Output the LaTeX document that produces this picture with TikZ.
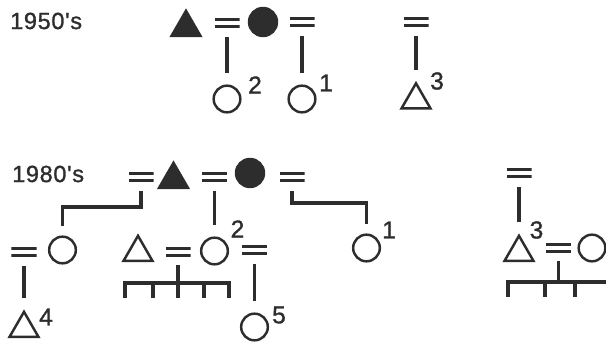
\documentclass[tikz,border=0pt]{standalone}
\usepackage{fontspec}
\setmainfont{Liberation Sans}
\newfontfamily\erafont[LetterSpace=3,FakeBold=1.2]{Liberation Sans}
\newfontfamily\supfont[FakeBold=1.2]{Liberation Sans}
\usetikzlibrary{shapes.geometric}
\definecolor{ink}{RGB}{45,45,45}

\begin{document}
\begin{tikzpicture}[
			x=0.03cm, y=-0.03cm,
			line join=miter,
			fem/.style = {draw=ink, circle, line width=2.1pt, minimum size=0.8cm, inner sep=0pt},
			femf/.style = {fem, fill=ink, minimum size=0.84cm},
			mal/.style = {draw=ink, regular polygon, regular polygon sides=3, line width=2.1pt, minimum size=1.0cm, inner sep=0pt},
			malf/.style = {mal, fill=ink},
			marr/.style = {minimum width=0.75cm, minimum height=0.4cm, inner sep=0pt,
				path picture={\draw[ink, line width=2.6pt]
					([yshift=0.1cm]path picture bounding box.west) -- ([yshift=0.1cm]path picture bounding box.east)
					([yshift=-0.1cm]path picture bounding box.west) -- ([yshift=-0.1cm]path picture bounding box.east);}},
			desc/.style = {draw=ink, line width=2.8pt, shorten <=0.21cm, shorten >=0.33cm},
			sib/.style = {draw=ink, line width=2.8pt},
			sup/.style = {inner sep=0pt, text=ink, font=\supfont\fontsize{21}{22}\selectfont},
			era/.style = {inner sep=0pt, anchor=west, text=ink, font=\erafont\fontsize{20}{22}\selectfont}
		]
		\useasboundingbox (0,0) rectangle (606,342);
		\clip (0,0) rectangle (606,342);
		\node[era] (1) at (10,21) {1950's};
		\node[malf] (2) at (186,27.5) {};
		\node[marr] (3) at (227,23) {};
		\node[femf] (4) at (263,22) {};
		\node[marr] (5) at (302,22) {};
		\node[marr] (6) at (416,22) {};
		\node[fem] (7) at (227,99) {};
		\node[fem] (8) at (302,99) {};
		\node[mal] (9) at (416,100) {};
		\node[sup] (10) at (255,85) {2};
		\node[sup] (11) at (326,83) {1};
		\node[sup] (12) at (437,81) {3};
		\draw[desc] (3) -- (7);
		\draw[desc] (5) -- (8);
		\draw[desc] (6) -- (9);
		\node[era] (13) at (12,174) {1980's};
		\node[marr] (14) at (141,177) {};
		\node[malf] (15) at (173.5,179.5) {};
		\node[marr] (16) at (214.5,177) {};
		\node[femf] (17) at (250,173) {};
		\node[marr] (18) at (292,177) {};
		\node[marr] (19) at (24,252) {};
		\node[fem] (20) at (62.5,250) {};
		\node[mal] (21) at (138,252.5) {};
		\node[marr] (22) at (178,252) {};
		\node[fem] (23) at (214.5,251) {};
		\node[marr] (24) at (254.5,250) {};
		\node[fem] (25) at (366.5,248) {};
		\node[mal] (26) at (24,328.5) {};
		\node[fem] (27) at (254.5,327) {};
		\node[marr] (28) at (519,173) {};
		\node[mal] (29) at (519,252.5) {};
		\node[marr] (30) at (558.5,248) {};
		\node[fem] (31) at (592,248) {};
		\node[sup] (32) at (237.5,229) {2};
		\node[sup] (33) at (389,230) {1};
		\node[sup] (34) at (46,317) {4};
		\node[sup] (35) at (279,315) {5};
		\node[sup] (36) at (536.5,230) {3};
		\coordinate (k1) at (100,207);
		\coordinate (k2) at (330,203);
		\draw[sib, shorten <=0.21cm, shorten >=0.27cm] (14) |- (k1) -| (20);
		\draw[sib, shorten <=0.21cm, shorten >=0.27cm] (18) |- (k2) -| (25);
		\draw[desc] (16) -- (23);
		\draw[desc] (24) -- (27);
		\draw[desc] (19) -- (26);
		\draw[desc] (28) -- (29);
		\coordinate (k3) at (178,298);
		\coordinate (k4) at (558.5,282);
		\draw[sib, shorten <=0.18cm] (22) -- (k3);
		\draw[sib, shorten <=0.18cm] (30) -- (k4);
		\foreach \x [count=\i] in {125,153,204,229} {
			\coordinate (a\i) at (\x,283);
			\coordinate (b\i) at (\x,298);
		}
		\draw[sib] (b1) -- (a1) -- (a4) -- (b4) (a2) -- (b2) (a3) -- (b3);
		\foreach \x [count=\i] in {508,545,575} {
			\coordinate (c\i) at (\x,282);
			\coordinate (d\i) at (\x,297);
		}
		\coordinate (e) at (620,282);
		\draw[sib] (d1) -- (c1) -- (e) (c2) -- (d2) (c3) -- (d3);
	\end{tikzpicture}
\end{document}
